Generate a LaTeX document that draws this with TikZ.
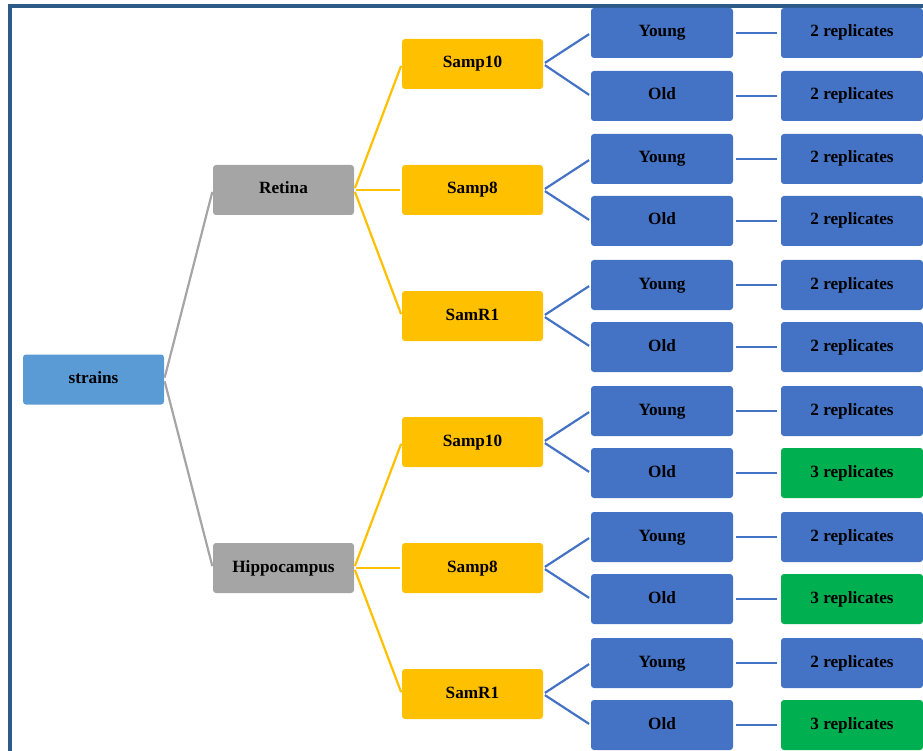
\documentclass[tikz,border=0pt]{standalone}
\usepackage{fontspec}
\setmainfont{Liberation Serif}
\definecolor{frameblue}{HTML}{2E5A88}
\definecolor{cstrain}{HTML}{5B9BD5}
\definecolor{cgray}{HTML}{A5A5A5}
\definecolor{cyel}{HTML}{FFC000}
\definecolor{cblue}{HTML}{4472C4}
\definecolor{cgreen}{HTML}{00B050}
\begin{document}
\begin{tikzpicture}[x=1pt,y=-1pt,
  box/.style={rectangle, rounded corners=3pt, minimum width=141pt, minimum height=50pt, inner sep=0pt, text height=11.5pt, text depth=3.5pt, font=\bfseries\fontsize{17.2}{19}\selectfont, text=black},
  bstrain/.style={box, fill=cstrain},
  bgray/.style={box, fill=cgray},
  byel/.style={box, fill=cyel},
  bblue/.style={box, fill=cblue, minimum width=142pt},
  bgreen/.style={box, fill=cgreen, minimum width=142pt},
  lgray/.style={draw=cgray, line width=2.2pt, shorten <=2pt, shorten >=2pt},
  lyel/.style={draw=cyel, line width=2.2pt, shorten <=2pt, shorten >=2pt},
  lblue/.style={draw=cblue, line width=2.2pt, shorten <=2pt, shorten >=2pt},
  lrep/.style={draw=cblue, line width=2.2pt, shorten <=3pt, shorten >=4pt}
]
\useasboundingbox (0,0) rectangle (923,751);
\draw[frameblue, line width=3.5pt] (10,760) -- (10,6) -- (935,6);

\node[bstrain] (strains) at (93.5,379.5) {strains};
\node[bgray] (retina) at (283.5,190) {Retina};
\node[bgray] (hippo) at (283.5,568) {Hippocampus};

\draw[lgray] (strains.east) -- (retina.west);
\draw[lgray] (strains.east) -- (hippo.west);

% Samp nodes
\foreach \n/\t/\y in {s1/Samp10/64, s2/Samp8/190, s3/SamR1/316, s4/Samp10/442, s5/Samp8/568, s6/SamR1/694} {
  \node[byel] (\n) at (472.5,\y) {\t};
}
\foreach \n in {s1,s2,s3} \draw[lyel] (retina.east) -- (\n.west);
\foreach \n in {s4,s5,s6} \draw[lyel] (hippo.east) -- (\n.west);

% Young / Old and replicates
\foreach \i/\s/\yy/\yo/\cy/\co/\ry/\ro in {
  1/s1/33/96/bblue/bblue/2/2,
  2/s2/159/221/bblue/bblue/2/2,
  3/s3/285/347/bblue/bblue/2/2,
  4/s4/411/473/bblue/bgreen/2/3,
  5/s5/537/599/bblue/bgreen/2/3,
  6/s6/663/725/bblue/bgreen/2/3} {
  \node[bblue] (y\i) at (662,\yy) {Young};
  \node[bblue] (o\i) at (662,\yo) {Old};
  \node[\cy] (ry\i) at (852,\yy) {\ry\ replicates};
  \node[\co] (ro\i) at (852,\yo) {\ro\ replicates};
  \draw[lblue] (\s.east) -- (y\i.west);
  \draw[lblue] (\s.east) -- (o\i.west);
  \draw[lrep] (y\i.east) -- (ry\i.west);
  \draw[lrep] (o\i.east) -- (ro\i.west);
}
\end{tikzpicture}
\end{document}
